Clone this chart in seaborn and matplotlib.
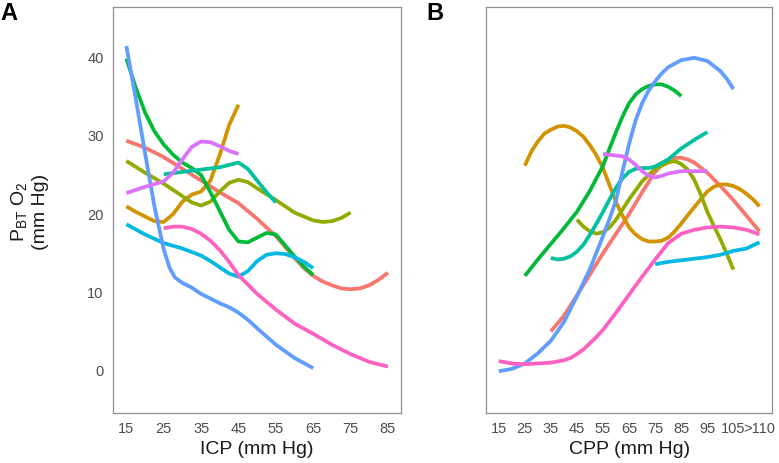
import numpy as np
import pandas as pd
import matplotlib
matplotlib.use("Agg")
import matplotlib.pyplot as plt
import seaborn as sns

sns.set_style("white")
plt.rcParams['font.family'] = ['Liberation Sans', 'DejaVu Sans']
plt.rcParams['mathtext.default'] = 'regular'

# ---------------- data ----------------
series_ids = ["1", "2", "3", "4", "5", "6", "7", "8", "9"]
colors = ["#F8766D", "#D39200", "#93AA00", "#00BA38", "#00C19F",
          "#00B9E3", "#619CFF", "#DB72FB", "#FF61C3"]

# Panel A: ICP (mm Hg)
icp_1_x = [15, 20, 25, 30, 35, 40, 45, 50, 55, 60, 62.5, 65, 67.5, 70, 72.5, 75, 77.5, 80, 82.5, 85]
icp_1_y = [29.4, 28.5, 27.3, 25.8, 24.3, 22.8, 21.4, 19.4, 17.2, 14.4, 13.1, 12.1, 11.4, 10.9, 10.5, 10.4, 10.5, 10.9, 11.6, 12.5]
icp_2_x = [15, 17.5, 20, 22.5, 25, 27.5, 30, 32.5, 35, 37.5, 40, 42.5, 45]
icp_2_y = [21.0, 20.3, 19.7, 19.1, 19.0, 20.0, 21.6, 22.5, 22.9, 24.3, 27.6, 31.4, 34.0]
icp_3_x = [15, 20, 25, 30, 32.5, 35, 37.5, 40, 42.5, 45, 47.5, 50, 55, 60, 65, 67.5, 70, 72.5, 75]
icp_3_y = [26.8, 25.3, 23.9, 22.3, 21.5, 21.1, 21.6, 22.9, 24.0, 24.4, 24.1, 23.3, 21.8, 20.2, 19.2, 19.0, 19.1, 19.5, 20.2]
icp_4_x = [15, 17.5, 20, 22.5, 25, 27.5, 30, 32.5, 35, 37.5, 40, 42.5, 45, 47.5, 50, 52.5, 55, 57.5, 60, 62.5, 65]
icp_4_y = [39.9, 36.2, 33.0, 30.6, 28.9, 27.6, 26.6, 25.9, 25.0, 22.8, 20.4, 18.0, 16.5, 16.4, 17.0, 17.6, 17.4, 16.0, 14.6, 13.3, 12.2]
icp_5_x = [25, 30, 35, 40, 42.5, 45, 47.5, 50, 52.5, 55]
icp_5_y = [25.1, 25.4, 25.7, 26.0, 26.3, 26.6, 25.8, 24.3, 22.8, 21.5]
icp_6_x = [15, 20, 25, 30, 35, 37.5, 40, 42.5, 45, 47.5, 50, 52.5, 55, 57.5, 60, 62.5, 65]
icp_6_y = [18.7, 17.4, 16.3, 15.6, 14.7, 14.0, 13.2, 12.4, 12.0, 12.7, 14.0, 14.8, 15.0, 14.9, 14.5, 13.9, 13.1]
icp_7_x = [15, 17.5, 20, 22.5, 25, 26.5, 28, 30, 32.5, 35, 37.5, 40, 42.5, 45, 47.5, 50, 55, 60, 65]
icp_7_y = [41.5, 34.8, 27.8, 21.0, 15.5, 13.2, 11.9, 11.2, 10.6, 9.8, 9.2, 8.6, 8.1, 7.4, 6.5, 5.4, 3.3, 1.6, 0.3]
icp_8_x = [15, 20, 25, 27.5, 30, 32.5, 35, 37.5, 40, 42.5, 45]
icp_8_y = [22.7, 23.5, 24.2, 25.3, 27.0, 28.6, 29.3, 29.2, 28.7, 28.1, 27.7]
icp_9_x = [25, 27.5, 30, 32.5, 35, 37.5, 40, 42.5, 45, 50, 55, 60, 65, 70, 75, 80, 85]
icp_9_y = [18.2, 18.4, 18.4, 18.1, 17.5, 16.6, 15.4, 13.9, 12.2, 9.8, 7.8, 6.0, 4.7, 3.3, 2.1, 1.1, 0.5]

# Panel B: CPP (mm Hg); 115 stands for ">110"
cpp_1_x = [35, 40, 45, 50, 55, 60, 65, 70, 75, 77.5, 80, 82.5, 85, 87.5, 90, 95, 100, 105, 110, 115]
cpp_1_y = [5.0, 7.0, 9.6, 12.3, 15.0, 17.5, 20.0, 22.8, 25.4, 26.3, 26.9, 27.2, 27.2, 27.0, 26.6, 25.3, 23.6, 21.8, 19.8, 17.8]
cpp_2_x = [25, 27.5, 30, 32.5, 35, 37.5, 40, 42.5, 45, 47.5, 50, 52.5, 55, 57.5, 60, 62.5, 65, 67.5, 70,
           72.5, 75, 77.5, 80, 82.5, 85, 90, 95, 97.5, 100, 102.5, 105, 107.5, 110, 112.5, 115]
cpp_2_y = [26.2, 28.0, 29.3, 30.3, 30.8, 31.2, 31.3, 31.1, 30.6, 29.9, 28.8, 27.5, 25.9, 23.7, 21.5, 19.8, 18.3, 17.4, 16.8,
           16.5, 16.5, 16.6, 17.0, 17.8, 18.8, 20.9, 22.9, 23.5, 23.8, 23.8, 23.6, 23.2, 22.6, 21.9, 21.0]
cpp_3_x = [45, 47.5, 50, 52.5, 55, 57.5, 60, 62.5, 65, 70, 75, 80, 82.5, 85, 87.5, 90, 92.5, 95, 97.5, 100, 102.5, 105]
cpp_3_y = [19.3, 18.4, 17.8, 17.5, 17.7, 18.3, 19.3, 20.6, 21.9, 24.2, 25.8, 26.6, 26.8, 26.4, 25.7, 24.4, 22.5, 20.3, 18.5, 16.8, 14.9, 12.9]
cpp_4_x = [25, 30, 35, 40, 45, 50, 55, 57.5, 60, 62.5, 65, 67.5, 70, 72.5, 75, 77.5, 80, 82.5, 85]
cpp_4_y = [12.1, 14.2, 16.2, 18.2, 20.3, 23.0, 26.2, 28.4, 30.5, 32.5, 34.2, 35.3, 36.0, 36.4, 36.6, 36.6, 36.3, 35.8, 35.1]
cpp_5_x = [35, 37.5, 40, 42.5, 45, 47.5, 50, 52.5, 55, 57.5, 60, 62.5, 65, 67.5, 70, 72.5, 75, 80, 85, 90, 95]
cpp_5_y = [14.4, 14.2, 14.3, 14.6, 15.2, 16.1, 17.4, 18.8, 20.3, 21.9, 23.4, 24.6, 25.4, 25.8, 25.9, 25.9, 26.1, 27.0, 28.4, 29.5, 30.5]
cpp_6_x = [75, 80, 85, 90, 95, 100, 105, 110, 115]
cpp_6_y = [13.6, 13.9, 14.1, 14.3, 14.5, 14.8, 15.3, 15.6, 16.4]
cpp_7_x = [15, 20, 25, 30, 35, 40, 45, 50, 55, 57.5, 60, 62.5, 65, 67.5, 70, 72.5, 75, 77.5, 80, 85, 90, 95, 100, 102.5, 105]
cpp_7_y = [-0.1, 0.2, 0.9, 2.2, 3.8, 6.2, 9.5, 13.0, 17.2, 19.4, 21.8, 25.5, 29.0, 32.0, 34.2, 35.8, 37.0, 38.0, 38.8, 39.7, 40.0, 39.6, 38.3, 37.3, 36.0]
cpp_8_x = [55, 60, 62.5, 65, 67.5, 70, 72.5, 75, 77.5, 80, 85, 90, 95]
cpp_8_y = [27.7, 27.5, 27.4, 27.0, 26.3, 25.5, 24.9, 24.7, 24.9, 25.2, 25.5, 25.5, 25.5]
cpp_9_x = [15, 20, 25, 30, 35, 40, 42.5, 45, 47.5, 50, 52.5, 55, 60, 65, 70, 75, 80, 85, 90, 95, 100, 105, 110, 115]
cpp_9_y = [1.2, 0.9, 0.8, 0.9, 1.0, 1.3, 1.6, 2.1, 2.7, 3.5, 4.3, 5.2, 7.4, 9.7, 12.0, 14.2, 16.3, 17.5, 18.0, 18.3, 18.4, 18.3, 18.0, 17.4]

icp_ticks = [15, 25, 35, 45, 55, 65, 75, 85]
icp_ticklabels = ["15", "25", "35", "45", "55", "65", "75", "85"]
cpp_ticks = [15, 25, 35, 45, 55, 65, 75, 85, 95, 105, 115]
cpp_ticklabels = ["15", "25", "35", "45", "55", "65", "75", "85", "95", "105", ">110"]
y_ticks = [0, 10, 20, 30, 40]

icp_series = [(icp_1_x, icp_1_y), (icp_2_x, icp_2_y), (icp_3_x, icp_3_y),
              (icp_4_x, icp_4_y), (icp_5_x, icp_5_y), (icp_6_x, icp_6_y),
              (icp_7_x, icp_7_y), (icp_8_x, icp_8_y), (icp_9_x, icp_9_y)]
cpp_series = [(cpp_1_x, cpp_1_y), (cpp_2_x, cpp_2_y), (cpp_3_x, cpp_3_y),
              (cpp_4_x, cpp_4_y), (cpp_5_x, cpp_5_y), (cpp_6_x, cpp_6_y),
              (cpp_7_x, cpp_7_y), (cpp_8_x, cpp_8_y), (cpp_9_x, cpp_9_y)]


def build(series):
    rows = []
    for sid, (xs, ys) in zip(series_ids, series):
        for x, y in zip(xs, ys):
            rows.append({"id": sid, "x": x, "y": y})
    return pd.DataFrame(rows)


df_icp = build(icp_series)
df_cpp = build(cpp_series)
palette = dict(zip(series_ids, colors))

# ---------------- figure ----------------
W, H = 779, 463
fig = plt.figure(figsize=(W / 100, H / 100), dpi=100)
ax1 = fig.add_axes([113.3 / W, 1 - 412.7 / H, 287.7 / W, 405.7 / H])
ax2 = fig.add_axes([485.7 / W, 1 - 412.7 / H, 286.8 / W, 405.7 / H])

border = "#8f8f8f"
tickcol = "#4d4d4d"

for ax, df, ticks, labels, xl, xlabel in [
        (ax1, df_icp, icp_ticks, icp_ticklabels, (11.5, 88.5), "ICP (mm Hg)"),
        (ax2, df_cpp, cpp_ticks, cpp_ticklabels, (10, 120), "CPP (mm Hg)")]:
    sns.lineplot(data=df, x="x", y="y", hue="id", palette=palette,
                 hue_order=series_ids, estimator=None, sort=False,
                 legend=False, linewidth=2.7, ax=ax,
                 solid_joinstyle="round", solid_capstyle="butt")
    ax.set_xlim(*xl)
    ax.set_ylim(-5.4, 46.5)
    ax.set_xticks(ticks)
    ax.set_xticklabels(labels)
    ax.set_yticks(y_ticks)
    ax.set_xlabel(xlabel, fontsize=14, color="#1a1a1a", labelpad=3)
    ax.set_ylabel("")
    for s in ax.spines.values():
        s.set_color(border)
        s.set_linewidth(0.9)
        s.set_visible(True)
    ax.tick_params(axis="both", direction="out", length=4, width=0.9,
                   color=border, labelcolor=tickcol, labelsize=10.5, pad=3)
    ax.grid(False)

ax2.tick_params(axis="y", labelleft=False)

fig.text(29 / W, 1 - 212 / H, "P$_{BT}$ O$_2$\n(mm Hg)", rotation=90,
         ha="center", va="center", multialignment="center",
         fontsize=14, color="#1a1a1a", linespacing=1.25)

fig.text(0.0 / W, 1 - 2 / H, "A", ha="left", va="top", fontsize=17,
         fontweight="bold", color="black")
fig.text(426 / W, 1 - 2 / H, "B", ha="left", va="top", fontsize=17,
         fontweight="bold", color="black")

fig.savefig("out.png", dpi=100)
